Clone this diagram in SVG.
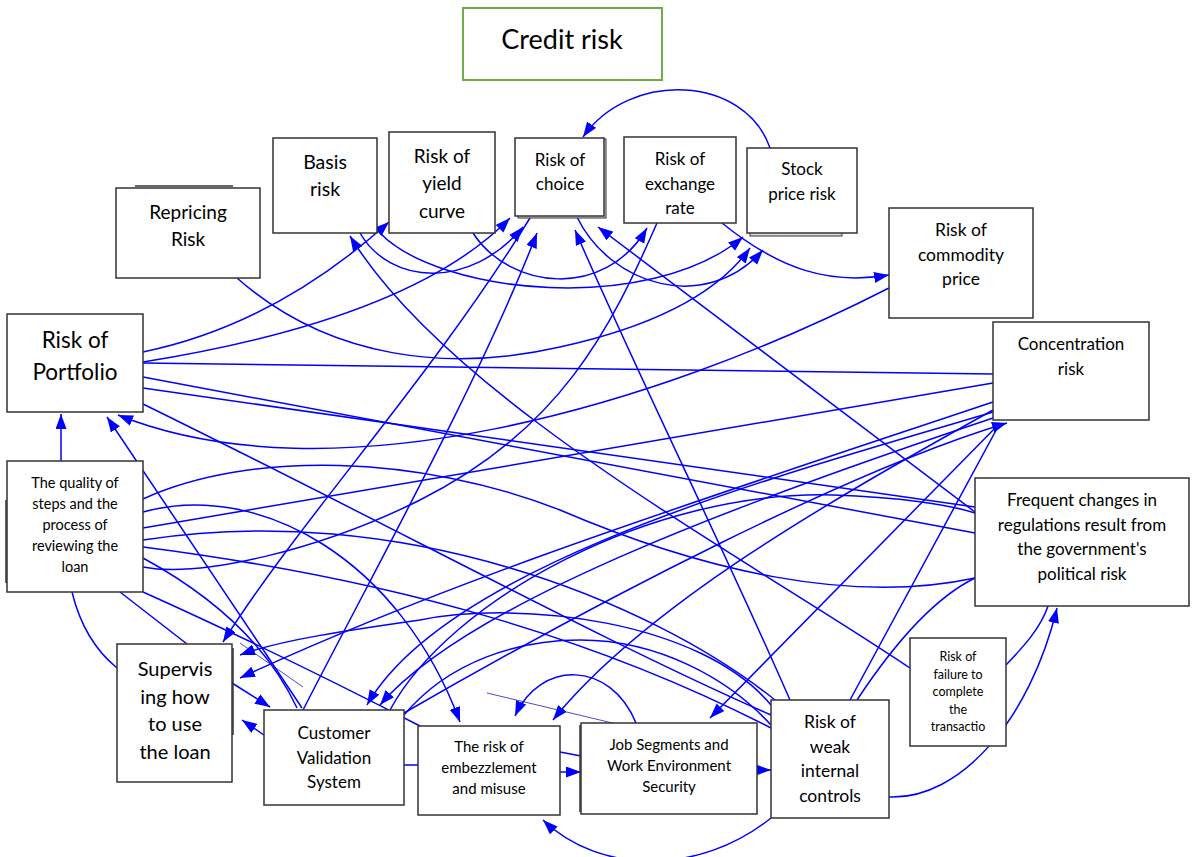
<svg xmlns="http://www.w3.org/2000/svg" width="1197" height="857" viewBox="0 0 1197 857">
  <style>
    .box { fill: #ffffff; stroke: #333333; stroke-width: 1.5; }
    .title { fill: #ffffff; stroke: #70AD47; stroke-width: 2; }
    .shadow { fill: none; stroke: #333333; stroke-width: 1.5; }
    .shadow-grey { fill: #dddddd; stroke: #333333; stroke-width: 1; }
    text { font-family: Lato, "Open Sans", "Liberation Sans", sans-serif; fill: #000000; text-anchor: middle; }
    .c { fill: none; stroke: #0000FF; stroke-width: 1.5; }
    .thin { fill: none; stroke: #2020C0; stroke-width: 0.8; }
    .a { marker-end: url(#arrow); }
  </style>
  <defs>
    <marker id="arrow" markerUnits="userSpaceOnUse" markerWidth="16" markerHeight="12" refX="15" refY="5.5" orient="auto">
      <path d="M0,0 L15,5.5 L0,11 z" fill="#0000FF"/>
    </marker>
  </defs>
  <rect width="1197" height="857" fill="#ffffff"/>

  <!-- connectors -->
  <g id="connectors">
    <!-- upper band -->
    <path class="c a" d="M770,148 C745,75 630,70 583,137"/>
    <path class="c a" d="M143,352 C250,330 330,275 389,222"/>
    <path class="c a" d="M143,362 C280,340 430,300 510,218"/>
    <path class="c a" d="M360,233 C390,285 470,290 523,227"/>
    <path class="c a" d="M473,233 C510,290 605,300 647,228"/>
    <path class="c a" d="M380,233 C440,295 650,315 743,237"/>
    <path class="c a" d="M577,217 C610,285 705,315 763,250"/>
    <path class="c a" d="M722,223 C780,270 830,285 889,275"/>
    <path class="c a" d="M237,278 C330,360 450,372 560,347 C660,325 720,290 750,248"/>
    <path class="c a" d="M975,512 L598,227"/>
    <path class="c a" d="M790,700 C720,540 640,380 575,230"/>
    <path class="c a" d="M530,218 C430,380 300,520 223,642"/>
    <path class="c a" d="M303,710 C380,560 480,380 537,233"/>
    <path class="c" d="M657,223 C610,330 560,430 420,500 C320,550 200,578 143,567"/>
    <path class="c a" d="M302,708 C230,600 150,480 107,417"/>
    <path class="c a" d="M889,288 C650,410 330,500 118,415"/>
    <path class="c" d="M143,363 L993,374"/>
    <path class="c" d="M143,377 L975,533"/>
    <path class="c" d="M143,388 L975,507"/>
    <path class="c" d="M143,404 C400,530 600,640 771,715"/>
    <path class="c a" d="M61,461 L61,414"/>

    <!-- middle band -->
    <path class="c" d="M143,499 C250,450 420,455 560,510 C700,570 850,605 975,578"/>
    <path class="c a" d="M143,512 C260,480 400,560 460,722"/>
    <path class="c" d="M143,528 L993,383"/>
    <path class="c" d="M143,547 C400,580 600,640 771,728"/>
    <path class="c" d="M143,558 C220,600 270,650 297,708"/>
    <path class="c" d="M120,592 L187,644"/>
    <path class="c" d="M72,592 C80,625 95,650 117,668"/>
    <path class="c" d="M143,592 C250,640 350,690 420,726"/>
    <path class="c a" d="M910,668 C750,560 450,400 350,236"/>
    <path class="c" d="M143,540 C400,500 650,600 775,700"/>

    <!-- lower band -->
    <path class="c a" d="M771,705 C700,620 520,600 420,620 C350,630 280,640 240,655"/>
    <path class="c a" d="M993,402 C700,500 450,580 240,678"/>
    <path class="c a" d="M264,735 L242,720"/>
    <path class="c a" d="M232,683 L270,707"/>
    <path class="c a" d="M993,412 C800,470 450,560 367,705"/>
    <path class="c a" d="M993,418 C750,500 470,600 380,705"/>
    <path class="c" d="M390,710 C450,600 650,490 833,495 C900,497 950,505 975,513"/>
    <path class="c a" d="M404,713 C600,600 850,470 1007,423"/>
    <path class="c a" d="M993,410 C850,490 650,600 553,720"/>
    <path class="c a" d="M1000,423 L710,718"/>
    <path class="c" d="M850,700 L1000,423"/>
    <path class="c" d="M857,700 C890,650 930,600 975,578"/>
    <path class="c" d="M404,715 C450,660 520,640 580,640 C660,640 730,680 771,725"/>
    <path class="c" d="M404,765 L418,765"/>
    <path class="c a" d="M560,772 L581,772"/>
    <path class="c" d="M560,752 L581,756"/>
    <path class="c a" d="M757,770 L771,770"/>
    <path class="c a" d="M771,818 C700,875 600,875 543,820"/>
    <path class="c a" d="M636,723 C610,660 540,660 515,716"/>
    <path class="c a" d="M889,797 C960,800 1030,720 1057,608"/>
    <path class="c" d="M1006,665 C1020,650 1040,630 1048,606"/>
    <path class="thin" d="M487,693 L625,726"/>
    <path class="thin" d="M240,643 L303,687"/>
  </g>

  <!-- nodes -->
  <g id="credit-risk">
    <rect class="title" x="463" y="8" width="199" height="72"/>
    <text x="562" y="49" font-size="27">Credit risk</text>
  </g>
  <g id="repricing-risk">
    <line class="shadow" x1="135" y1="186" x2="233" y2="186"/>
    <rect class="box" x="116" y="188" width="144" height="90"/>
    <text x="188" y="219" font-size="19">Repricing</text>
    <text x="188" y="246" font-size="19">Risk</text>
  </g>
  <g id="basis-risk">
    <rect class="box" x="273" y="138" width="104" height="95"/>
    <text x="325" y="169" font-size="19.5">Basis</text>
    <text x="325" y="196" font-size="19.5">risk</text>
  </g>
  <g id="yield-curve">
    <rect class="box" x="389" y="132" width="106" height="101"/>
    <text x="442" y="163" font-size="19">Risk of</text>
    <text x="442" y="190" font-size="19">yield</text>
    <text x="442" y="218" font-size="19">curve</text>
  </g>
  <g id="risk-of-choice">
    <rect class="shadow-grey" x="518" y="139" width="88" height="79"/>
    <rect class="box" x="515" y="138" width="89" height="78"/>
    <text x="560" y="166" font-size="17">Risk of</text>
    <text x="560" y="190" font-size="17">choice</text>
  </g>
  <g id="exchange-rate">
    <rect class="box" x="624" y="137" width="112" height="86"/>
    <text x="680" y="165" font-size="17">Risk of</text>
    <text x="680" y="190" font-size="17">exchange</text>
    <text x="680" y="214" font-size="17">rate</text>
  </g>
  <g id="stock-price">
    <rect class="shadow-grey" x="750" y="152" width="92" height="84"/>
    <rect class="box" x="747" y="148" width="110" height="85"/>
    <text x="802" y="175" font-size="17">Stock</text>
    <text x="802" y="200" font-size="17">price risk</text>
  </g>
  <g id="commodity-price">
    <rect class="box" x="889" y="208" width="144" height="110"/>
    <text x="961" y="236" font-size="17.5">Risk of</text>
    <text x="961" y="261" font-size="17.5">commodity</text>
    <text x="961" y="285" font-size="17.5">price</text>
  </g>
  <g id="portfolio">
    <rect class="box" x="7" y="314" width="136" height="98"/>
    <text x="75" y="348" font-size="22.5">Risk of</text>
    <text x="75" y="380" font-size="22.5">Portfolio</text>
  </g>
  <g id="concentration">
    <rect class="box" x="993" y="322" width="156" height="98"/>
    <text x="1071" y="350" font-size="17">Concentration</text>
    <text x="1071" y="375" font-size="17">risk</text>
  </g>
  <g id="loan-review">
    <line class="shadow" x1="6" y1="500" x2="6" y2="583"/>
    <rect class="box" x="7" y="461" width="136" height="131"/>
    <text x="75" y="488" font-size="14.5">The quality of</text>
    <text x="75" y="509" font-size="14.5">steps and the</text>
    <text x="75" y="530" font-size="14.5">process of</text>
    <text x="75" y="551" font-size="14.5">reviewing the</text>
    <text x="75" y="572" font-size="14.5">loan</text>
  </g>
  <g id="regulation-changes">
    <rect class="box" x="975" y="478" width="214" height="128"/>
    <text x="1082" y="506" font-size="17">Frequent changes in</text>
    <text x="1082" y="531" font-size="17">regulations result from</text>
    <text x="1082" y="555" font-size="17">the government's</text>
    <text x="1082" y="580" font-size="17">political risk</text>
  </g>
  <g id="transaction-failure">
    <rect class="box" x="910" y="638" width="96" height="108"/>
    <text x="958" y="661" font-size="12.5">Risk of</text>
    <text x="958" y="679" font-size="12.5">failure to</text>
    <text x="958" y="696" font-size="12.5">complete</text>
    <text x="958" y="714" font-size="12.5">the</text>
    <text x="958" y="731" font-size="12.5">transactio</text>
  </g>
  <g id="loan-supervision">
    <line class="shadow" x1="233" y1="648" x2="233" y2="735"/>
    <rect class="box" x="117" y="644" width="115" height="138"/>
    <text x="175" y="676" font-size="20">Supervis</text>
    <text x="175" y="704" font-size="20">ing how</text>
    <text x="175" y="731" font-size="20">to use</text>
    <text x="175" y="759" font-size="20">the loan</text>
  </g>
  <g id="customer-validation">
    <rect class="box" x="264" y="710" width="140" height="95"/>
    <text x="334" y="739" font-size="17">Customer</text>
    <text x="334" y="764" font-size="17">Validation</text>
    <text x="334" y="788" font-size="17">System</text>
  </g>
  <g id="embezzlement">
    <rect class="box" x="418" y="726" width="142" height="89"/>
    <text x="489" y="752" font-size="15">The risk of</text>
    <text x="489" y="773" font-size="15">embezzlement</text>
    <text x="489" y="794" font-size="15">and misuse</text>
  </g>
  <g id="job-segments">
    <line class="shadow" x1="580" y1="725" x2="580" y2="812"/>
    <rect class="box" x="581" y="723" width="176" height="91"/>
    <text x="669" y="750" font-size="15">Job Segments and</text>
    <text x="669" y="771" font-size="15">Work Environment</text>
    <text x="669" y="792" font-size="15">Security</text>
  </g>
  <g id="weak-controls">
    <rect class="box" x="771" y="700" width="118" height="118"/>
    <text x="830" y="728" font-size="17.5">Risk of</text>
    <text x="830" y="753" font-size="17.5">weak</text>
    <text x="830" y="777" font-size="17.5">internal</text>
    <text x="830" y="802" font-size="17.5">controls</text>
  </g>
</svg>
